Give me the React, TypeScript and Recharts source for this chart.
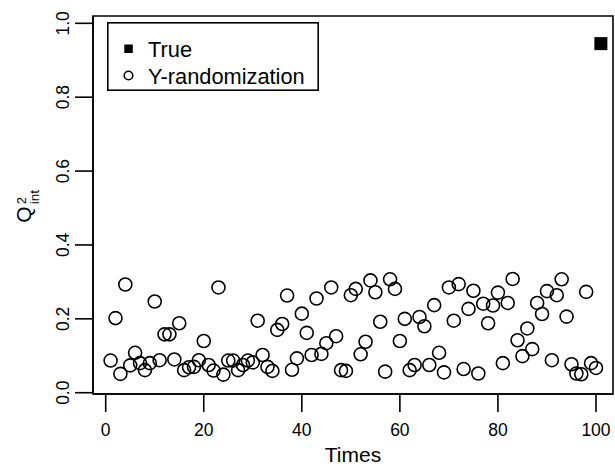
import { ScatterChart, Scatter, XAxis, YAxis, ReferenceArea } from "recharts";

// run index (x) and Q2int of each Y-randomization run
const times = [
  1, 2, 3, 4, 5, 6, 7, 8, 9, 10, 11, 12, 13, 14, 15, 16, 17, 18, 19, 20,
  21, 22, 23, 24, 25, 26, 27, 28, 29, 30, 31, 32, 33, 34, 35, 36, 37, 38, 39, 40,
  41, 42, 43, 44, 45, 46, 47, 48, 49, 50, 51, 52, 53, 54, 55, 56, 57, 58, 59, 60,
  61, 62, 63, 64, 65, 66, 67, 68, 69, 70, 71, 72, 73, 74, 75, 76, 77, 78, 79, 80,
  81, 82, 83, 84, 85, 86, 87, 88, 89, 90, 91, 92, 93, 94, 95, 96, 97, 98, 99, 100,
];
const randQ2 = [
  0.087, 0.202, 0.051, 0.293, 0.074, 0.108, 0.08, 0.061, 0.08, 0.247,
  0.088, 0.158, 0.158, 0.09, 0.188, 0.061, 0.069, 0.07, 0.088, 0.14,
  0.075, 0.06, 0.285, 0.049, 0.087, 0.087, 0.061, 0.075, 0.087, 0.082,
  0.195, 0.102, 0.07, 0.059, 0.17, 0.186, 0.263, 0.062, 0.093, 0.214,
  0.162, 0.102, 0.255, 0.105, 0.134, 0.285, 0.153, 0.061, 0.059, 0.264,
  0.281, 0.104, 0.138, 0.304, 0.272, 0.192, 0.057, 0.307, 0.281, 0.14,
  0.2, 0.061, 0.075, 0.205, 0.18, 0.075, 0.237, 0.108, 0.055, 0.285,
  0.195, 0.294, 0.064, 0.227, 0.276, 0.052, 0.241, 0.188, 0.236, 0.271,
  0.08, 0.243, 0.308, 0.142, 0.099, 0.174, 0.118, 0.243, 0.213, 0.275,
  0.088, 0.264, 0.307, 0.206, 0.077, 0.052, 0.05, 0.273, 0.08, 0.067,
];
const trueTimes = [101];
const trueQ2 = [0.945];

const xTicks = [0, 20, 40, 60, 80, 100];
const yTicks = [0, 0.2, 0.4, 0.6, 0.8, 1.0];
const legendLabels = ["True", "Y-randomization"];

const xDomain = [-2.59, 103.47];
const yDomain = [-0.0035, 1.0198];

const randData = times.map((t, i) => ({ t, q: randQ2[i] }));
const trueData = trueTimes.map((t, i) => ({ t, q: trueQ2[i] }));

const FONT = '"Liberation Sans", Arial, Helvetica, sans-serif';
const LW = 1.6;

const OpenCircle = (p: any) => (
  <circle cx={p.cx} cy={p.cy} r={6.5} fill="none" stroke="#000" strokeWidth={LW} />
);
const FilledSquare = (p: any) => (
  <rect x={p.cx - 6.5} y={p.cy - 6.5} width={13} height={13} fill="#000" />
);

const XTick = ({ x, y, payload }: any) => (
  <text x={x} y={y + 24.3} textAnchor="middle" fontSize={17.5} fontFamily={FONT} fill="#000">
    {payload.value}
  </text>
);

const YTick = ({ x, y, payload }: any) => (
  <text
    transform={`translate(${x - 6.3},${y}) rotate(-90)`}
    textAnchor="middle"
    fontSize={17.5}
    fontFamily={FONT}
    fill="#000"
  >
    {payload.value.toFixed(1)}
  </text>
);

const QLabel = () => (
  <g transform="translate(31,222.7) rotate(-90)" fontFamily={FONT} fill="#000">
    <text x={0} y={0} fontSize={21}>Q</text>
    <text x={18.5} y={-5.3} fontSize={13}>2</text>
    <text x={18.5} y={8} fontSize={13.5}>int</text>
  </g>
);

const TimesLabel = ({ viewBox }: any) => (
  <text
    x={viewBox.x + viewBox.width / 2}
    y={462}
    textAnchor="middle"
    fontSize={21}
    fontFamily={FONT}
    fill="#000"
  >
    Times
  </text>
);

export default function App() {
  return (
    <div style={{ position: "absolute", left: 0, top: 0, width: 615, height: 466, background: "#fff" }}>
      <ScatterChart width={615} height={466} margin={{ top: 16, right: 2, bottom: 0, left: 0 }}>
        <XAxis
          xAxisId="b"
          type="number"
          dataKey="t"
          domain={xDomain}
          allowDataOverflow
          ticks={xTicks}
          interval={0}
          height={72}
          tickSize={18}
          tickMargin={0}
          axisLine={{ stroke: "#000", strokeWidth: LW }}
          tickLine={{ stroke: "#000", strokeWidth: LW }}
          tick={XTick}
          label={{ content: TimesLabel }}
        />
        <YAxis
          yAxisId="l"
          type="number"
          dataKey="q"
          domain={yDomain}
          allowDataOverflow
          ticks={yTicks}
          interval={0}
          width={93}
          tickSize={18}
          tickMargin={0}
          axisLine={{ stroke: "#000", strokeWidth: LW }}
          tickLine={{ stroke: "#000", strokeWidth: LW }}
          tick={YTick}
          label={{ content: QLabel }}
        />
        <ReferenceArea
          xAxisId="b"
          yAxisId="l"
          y1={yDomain[0]}
          y2={yDomain[1]}
          fill="none"
          stroke="#000"
          strokeWidth={LW}
          ifOverflow="visible"
        />
        <Scatter data={randData} xAxisId="b" yAxisId="l" shape={OpenCircle} isAnimationActive={false} />
        <Scatter data={trueData} xAxisId="b" yAxisId="l" shape={FilledSquare} isAnimationActive={false} />
      </ScatterChart>
      <svg
        width={212}
        height={69}
        style={{ position: "absolute", left: 107, top: 22 }}
        fontFamily={FONT}
      >
        <rect x={0.8} y={0.8} width={210.4} height={67.4} fill="#fff" stroke="#000" strokeWidth={LW} />
        <rect x={17.3} y={22.5} width={8.5} height={8.5} fill="#000" />
        <text x={41} y={34.5} fontSize={21.8} fill="#000">{legendLabels[0]}</text>
        <circle cx={21.5} cy={53.5} r={4.3} fill="none" stroke="#000" strokeWidth={LW} />
        <text x={41} y={61.5} fontSize={21.8} fill="#000">{legendLabels[1]}</text>
      </svg>
    </div>
  );
}
